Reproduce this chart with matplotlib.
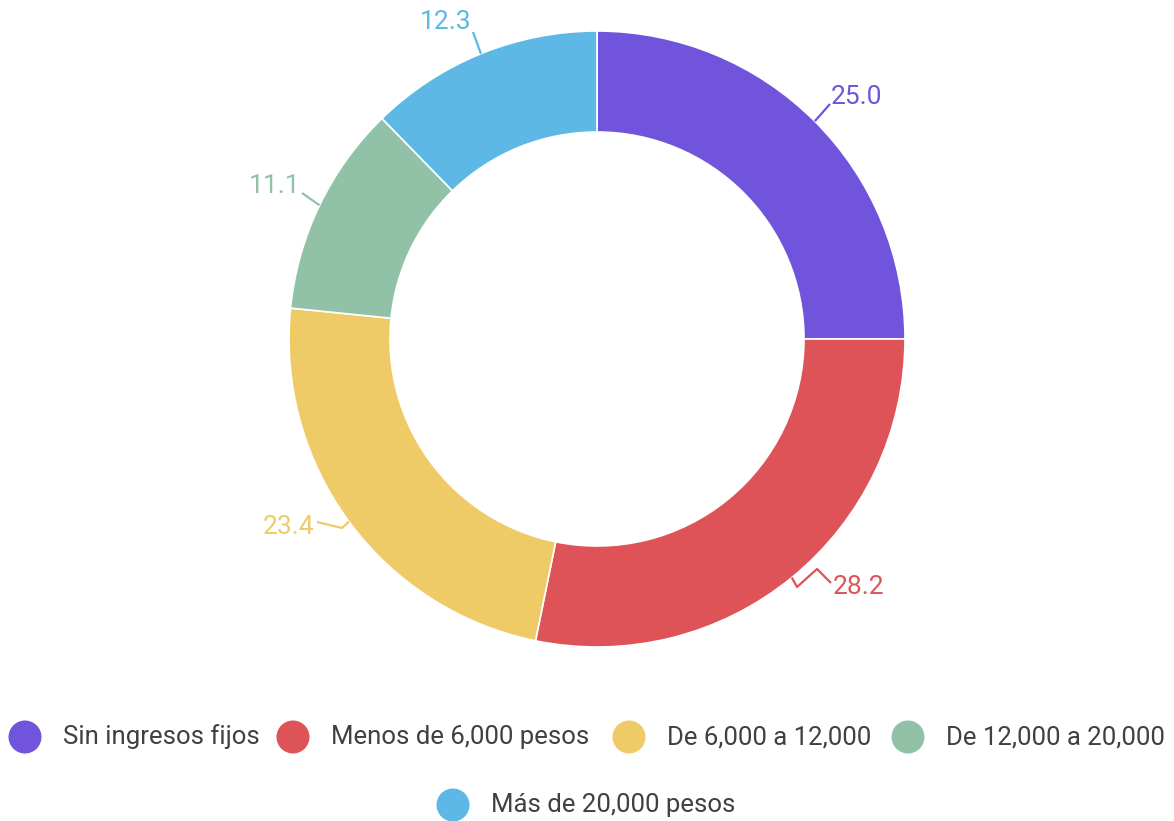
import numpy as np
import matplotlib
matplotlib.use("Agg")
import matplotlib.pyplot as plt

# ---- data ----
categories = ["Sin ingresos fijos", "Menos de 6,000 pesos", "De 6,000 a 12,000",
              "De 12,000 a 20,000", "Más de 20,000 pesos"]
values = [25.0, 28.2, 23.4, 11.1, 12.3]
value_labels = ["25.0", "28.2", "23.4", "11.1", "12.3"]
colors = ["#7055DC", "#DD5357", "#EFCB68", "#91C2A7", "#5DB8E5"]

W, H = 1174, 821
plt.rcParams['font.family'] = ['Roboto', 'DejaVu Sans']

fig = plt.figure(figsize=(W / 100, H / 100), dpi=100)
ax = fig.add_axes([0, 0, 1, 1])

cx, cy = 597, H - 339
R = 308
inner = 207

wedges, _ = ax.pie(values, colors=colors, startangle=90, counterclock=False,
                   radius=R, center=(cx, cy), frame=True,
                   wedgeprops=dict(width=R - inner, edgecolor="white", linewidth=1.2))
ax.set_xlim(0, W)
ax.set_ylim(0, H)
ax.set_aspect("auto")
ax.axis("off")

# label layout (pixel coords, y from top)
label_pos = [(856, 97), (859, 587), (289, 527), (275, 186), (446, 22)]
leader_pts = [
    [(830, 104)],
    [(797, 587), (817, 569), (831, 583)],
    [(342, 528), (317, 522)],
    [(302, 193)],
    [(473, 32)],
]
for w, lp, pts, txt, col in zip(wedges, label_pos, leader_pts, value_labels, colors):
    mid = np.deg2rad((w.theta1 + w.theta2) / 2)
    sx, sy = cx + R * np.cos(mid), cy + R * np.sin(mid)
    xs = [sx] + [p[0] for p in pts]
    ys = [sy] + [H - p[1] for p in pts]
    ax.plot(xs, ys, color=col, lw=1.6, solid_capstyle="butt")
    ax.text(lp[0], H - lp[1], txt, color=col, fontsize=19, ha="center", va="center")

# legend (manual, two centered rows)
legend_circles = [(25, 737), (293, 737), (629, 737), (908, 737), (453, 805)]
text_color = "#404040"
for (x, y), lab, col in zip(legend_circles, categories, colors):
    ax.scatter([x], [H - y], s=(33 * 0.72) ** 2, color=col, edgecolors="none")
    ax.text(x + 38, H - y, lab, color=text_color, fontsize=18.5, ha="left", va="center")

fig.savefig("out.png", dpi=100)
